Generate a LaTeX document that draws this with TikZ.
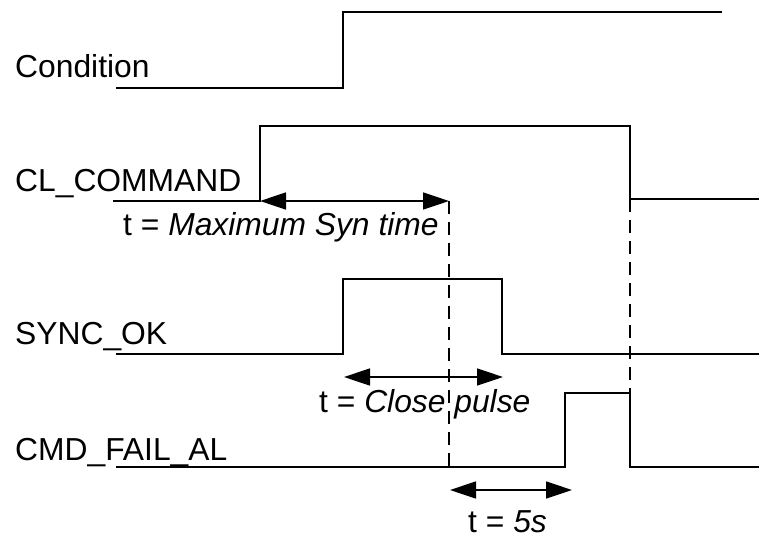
\documentclass[tikz,border=0pt]{standalone}
\usepackage{fontspec}
\setmainfont{Liberation Sans}
\usetikzlibrary{arrows.meta}
\begin{document}
\begin{tikzpicture}[x=1pt,y=-1pt,
 wave/.style={line width=1.6pt, line join=miter},
 guide/.style={line width=1.4pt, dash pattern=on 13pt off 8pt},
 span/.style={line width=1.6pt, {Triangle[length=26pt,width=17pt]}-{Triangle[length=26pt,width=17pt]}},
 lbl/.style={anchor=base west, inner sep=0pt, font=\fontsize{31.8}{38}\selectfont}]
\useasboundingbox (0,0) rectangle (759,538);
% Condition
\coordinate (c0) at (116,88); \coordinate (c1) at (343,88);
\coordinate (c2) at (343,12); \coordinate (c3) at (722,12);
\draw[wave] (c0) -- (c1) -- (c2) -- (c3);
% CL_COMMAND
\coordinate (k0) at (113,201); \coordinate (k1) at (260,201);
\coordinate (k2) at (260,126); \coordinate (k3) at (630,126);
\coordinate (k4) at (630,199); \coordinate (k5) at (759,199);
\draw[wave] (k0) -- (k1) -- (k2) -- (k3) -- (k4) -- (k5);
% SYNC_OK
\coordinate (s0) at (116,354); \coordinate (s1) at (343,354);
\coordinate (s2) at (343,279); \coordinate (s3) at (502,279);
\coordinate (s4) at (502,354); \coordinate (s5) at (759,354);
\draw[wave] (s0) -- (s1) -- (s2) -- (s3) -- (s4) -- (s5);
% CMD_FAIL_AL
\coordinate (f0) at (116,467); \coordinate (f1) at (565,467);
\coordinate (f2) at (565,393); \coordinate (f3) at (630,393);
\coordinate (f4) at (630,467); \coordinate (f5) at (759,467);
\draw[wave] (f0) -- (f1) -- (f2) -- (f3) -- (f4) -- (f5);
% guides
\coordinate (a1e) at (449,201); \coordinate (d1b) at (449,467);
\draw[guide] (a1e) -- (d1b);
\draw[guide] (k4) -- (f3);
% spans
\draw[span] (k1) -- (a1e);
\coordinate (a2s) at (344,377); \coordinate (a2e) at (503,377);
\draw[span] (a2s) -- (a2e);
\coordinate (a3s) at (450,490); \coordinate (a3e) at (572,490);
\draw[span] (a3s) -- (a3e);
% labels
\node[lbl] (lc) at (15,77) {Condition};
\node[lbl] (lk) at (15,191) {CL\_COMMAND};
\node[lbl] (ls) at (15,344) {SYNC\_OK};
\node[lbl] (lf) at (15,460) {CMD\_FAIL\_AL};
\node[lbl] (t1) at (123,235) {t = \textit{Maximum Syn time}};
\node[lbl] (t2) at (319,412) {t = \textit{Close pulse}};
\node[lbl] (t3) at (468,532) {t = \textit{5s}};
\end{tikzpicture}
\end{document}
